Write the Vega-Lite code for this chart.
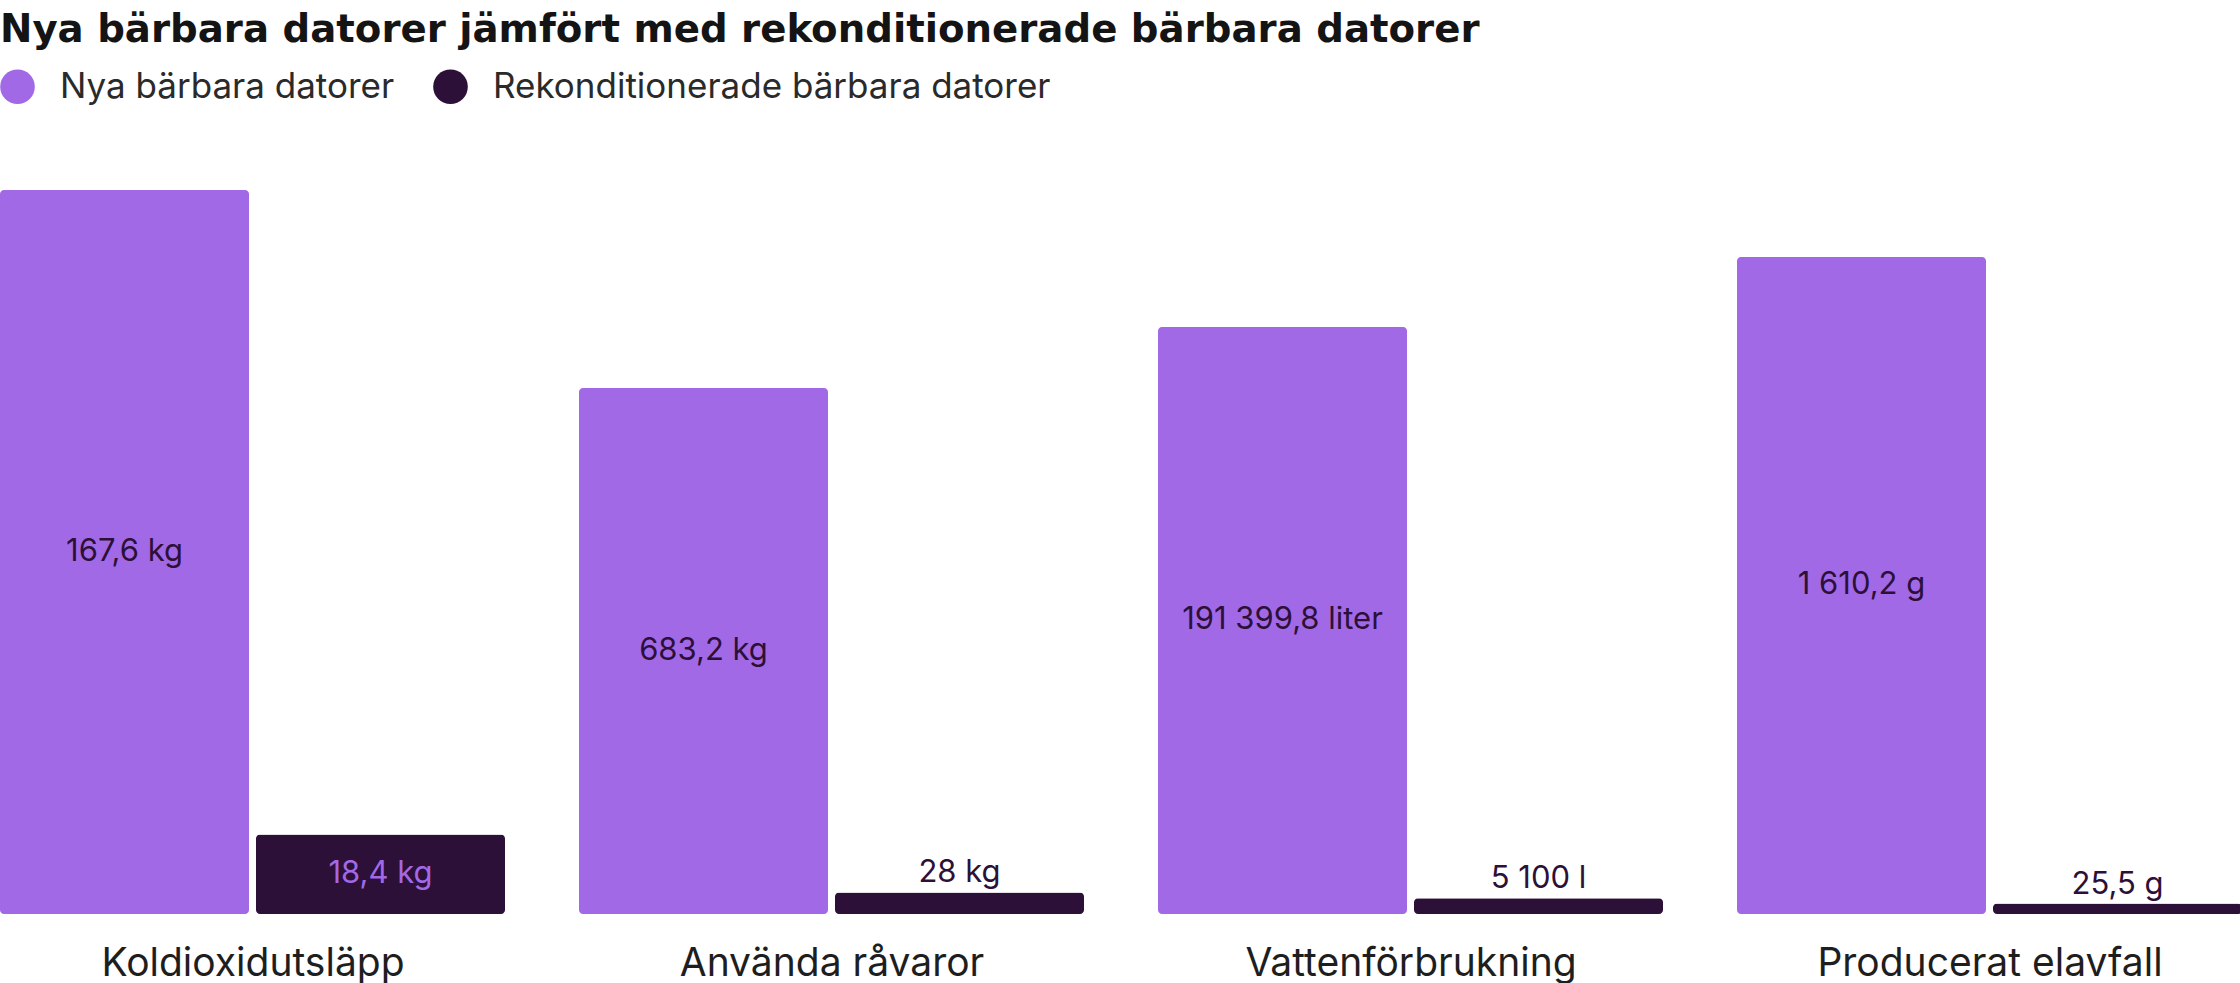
{
  "$schema": "https://vega.github.io/schema/vega-lite/v6.json",
  "padding": {"left": 0, "top": 11, "right": 0, "bottom": 0},
  "background": "white",
  "title": {"text": "Nya bärbara datorer jämfört med rekonditionerade bärbara datorer", "anchor": "start", "frame": "bounds", "fontSize": 38.7, "fontWeight": "bold", "font": "DejaVu Sans", "color": "#141414", "offset": 19},
  "data": {"values": [
    {"kategori": "Koldioxidutsläpp", "typ": "Nya bärbara datorer", "varde": 167.6, "etikett": "167,6 kg"},
    {"kategori": "Koldioxidutsläpp", "typ": "Rekonditionerade bärbara datorer", "varde": 18.4, "etikett": "18,4 kg"},
    {"kategori": "Använda råvaror", "typ": "Nya bärbara datorer", "varde": 683.2, "etikett": "683,2 kg"},
    {"kategori": "Använda råvaror", "typ": "Rekonditionerade bärbara datorer", "varde": 28, "etikett": "28 kg"},
    {"kategori": "Vattenförbrukning", "typ": "Nya bärbara datorer", "varde": 191399.8, "etikett": "191 399,8 liter"},
    {"kategori": "Vattenförbrukning", "typ": "Rekonditionerade bärbara datorer", "varde": 5100, "etikett": "5 100 l"},
    {"kategori": "Producerat elavfall", "typ": "Nya bärbara datorer", "varde": 1610.2, "etikett": "1 610,2 g"},
    {"kategori": "Producerat elavfall", "typ": "Rekonditionerade bärbara datorer", "varde": 25.5, "etikett": "25,5 g"}
  ]},
  "spacing": 73,
  "hconcat": [
    {
      "width": 505, "height": 724,
      "transform": [{"filter": {"field": "kategori", "equal": "Koldioxidutsläpp"}}, {"calculate": "datum.varde / 2", "as": "mitt"}],
      "encoding": {"x": {"field": "typ", "type": "nominal", "sort": ["Nya bärbara datorer", "Rekonditionerade bärbara datorer"], "scale": {"paddingInner": 0.0273, "paddingOuter": 0}, "axis": {"title": "Koldioxidutsläpp"}}},
      "layer": [
        {"mark": {"type": "bar", "cornerRadius": 4},
         "encoding": {"y": {"field": "varde", "type": "quantitative", "scale": {"domain": [0, 167.6], "nice": false}, "axis": null},
                      "color": {"field": "typ", "type": "nominal", "sort": ["Nya bärbara datorer", "Rekonditionerade bärbara datorer"], "scale": {"domain": ["Nya bärbara datorer", "Rekonditionerade bärbara datorer"], "range": ["#A269E7", "#2C1038"]}, "legend": {"title": null, "orient": "top", "direction": "horizontal", "symbolType": "circle", "symbolSize": 1200, "symbolStrokeWidth": 0, "labelFontSize": 35, "labelFont": "Inter", "labelColor": "#2a2a2a", "labelLimit": 0, "labelOffset": 25, "columnPadding": 38, "offset": 85, "padding": 0}}}},
        {"mark": {"type": "text", "fontSize": 31, "font": "Inter", "baseline": "middle"},
         "encoding": {"y": {"field": "mitt", "type": "quantitative", "scale": {"domain": [0, 167.6], "nice": false}},
                      "text": {"field": "etikett"},
                      "color": {"condition": {"test": "datum.typ == 'Nya bärbara datorer'", "value": "#2C1038"}, "value": "#A269E7"}}}
      ]
    },
    {
      "width": 505, "height": 724,
      "transform": [{"filter": {"field": "kategori", "equal": "Använda råvaror"}}, {"calculate": "datum.varde / 2", "as": "mitt"}],
      "encoding": {"x": {"field": "typ", "type": "nominal", "sort": ["Nya bärbara datorer", "Rekonditionerade bärbara datorer"], "scale": {"paddingInner": 0.0273, "paddingOuter": 0}, "axis": {"title": "Använda råvaror"}}},
      "layer": [
        {"mark": {"type": "bar", "cornerRadius": 4},
         "encoding": {"y": {"field": "varde", "type": "quantitative", "scale": {"domain": [0, 940.4], "nice": false}, "axis": null},
                      "color": {"field": "typ", "type": "nominal", "sort": ["Nya bärbara datorer", "Rekonditionerade bärbara datorer"]}}},
        {"transform": [{"filter": "datum.typ == 'Nya bärbara datorer'"}],
         "mark": {"type": "text", "fontSize": 31, "font": "Inter", "baseline": "middle", "color": "#2C1038"},
         "encoding": {"y": {"field": "mitt", "type": "quantitative", "scale": {"domain": [0, 940.4], "nice": false}}, "text": {"field": "etikett"}}},
        {"transform": [{"filter": "datum.typ != 'Nya bärbara datorer'"}],
         "mark": {"type": "text", "fontSize": 31, "font": "Inter", "baseline": "alphabetic", "dy": -10, "color": "#2C1038"},
         "encoding": {"y": {"field": "varde", "type": "quantitative", "scale": {"domain": [0, 940.4], "nice": false}}, "text": {"field": "etikett"}}}
      ]
    },
    {
      "width": 505, "height": 724,
      "transform": [{"filter": {"field": "kategori", "equal": "Vattenförbrukning"}}, {"calculate": "datum.varde / 2", "as": "mitt"}],
      "encoding": {"x": {"field": "typ", "type": "nominal", "sort": ["Nya bärbara datorer", "Rekonditionerade bärbara datorer"], "scale": {"paddingInner": 0.0273, "paddingOuter": 0}, "axis": {"title": "Vattenförbrukning"}}},
      "layer": [
        {"mark": {"type": "bar", "cornerRadius": 4},
         "encoding": {"y": {"field": "varde", "type": "quantitative", "scale": {"domain": [0, 236068], "nice": false}, "axis": null},
                      "color": {"field": "typ", "type": "nominal", "sort": ["Nya bärbara datorer", "Rekonditionerade bärbara datorer"]}}},
        {"transform": [{"filter": "datum.typ == 'Nya bärbara datorer'"}],
         "mark": {"type": "text", "fontSize": 31, "font": "Inter", "baseline": "middle", "color": "#2C1038"},
         "encoding": {"y": {"field": "mitt", "type": "quantitative", "scale": {"domain": [0, 236068], "nice": false}}, "text": {"field": "etikett"}}},
        {"transform": [{"filter": "datum.typ != 'Nya bärbara datorer'"}],
         "mark": {"type": "text", "fontSize": 31, "font": "Inter", "baseline": "alphabetic", "dy": -10, "color": "#2C1038"},
         "encoding": {"y": {"field": "varde", "type": "quantitative", "scale": {"domain": [0, 236068], "nice": false}}, "text": {"field": "etikett"}}}
      ]
    },
    {
      "width": 505, "height": 724,
      "transform": [{"filter": {"field": "kategori", "equal": "Producerat elavfall"}}, {"calculate": "datum.varde / 2", "as": "mitt"}],
      "encoding": {"x": {"field": "typ", "type": "nominal", "sort": ["Nya bärbara datorer", "Rekonditionerade bärbara datorer"], "scale": {"paddingInner": 0.0273, "paddingOuter": 0}, "axis": {"title": "Producerat elavfall"}}},
      "layer": [
        {"mark": {"type": "bar", "cornerRadius": 4},
         "encoding": {"y": {"field": "varde", "type": "quantitative", "scale": {"domain": [0, 1774.4], "nice": false}, "axis": null},
                      "color": {"field": "typ", "type": "nominal", "sort": ["Nya bärbara datorer", "Rekonditionerade bärbara datorer"]}}},
        {"transform": [{"filter": "datum.typ == 'Nya bärbara datorer'"}],
         "mark": {"type": "text", "fontSize": 31, "font": "Inter", "baseline": "middle", "color": "#2C1038"},
         "encoding": {"y": {"field": "mitt", "type": "quantitative", "scale": {"domain": [0, 1774.4], "nice": false}}, "text": {"field": "etikett"}}},
        {"transform": [{"filter": "datum.typ != 'Nya bärbara datorer'"}],
         "mark": {"type": "text", "fontSize": 31, "font": "Inter", "baseline": "alphabetic", "dy": -10, "color": "#2C1038"},
         "encoding": {"y": {"field": "varde", "type": "quantitative", "scale": {"domain": [0, 1774.4], "nice": false}}, "text": {"field": "etikett"}}}
      ]
    }
  ],
  "config": {
    "view": {"stroke": null},
    "font": "Inter",
    "axisX": {"labels": false, "ticks": false, "domain": false, "grid": false, "titleFontSize": 39, "titleFontWeight": 400, "titleFont": "Inter", "titleColor": "#1e1e1e", "titleBaseline": "alphabetic", "titlePadding": 61}
  }
}
